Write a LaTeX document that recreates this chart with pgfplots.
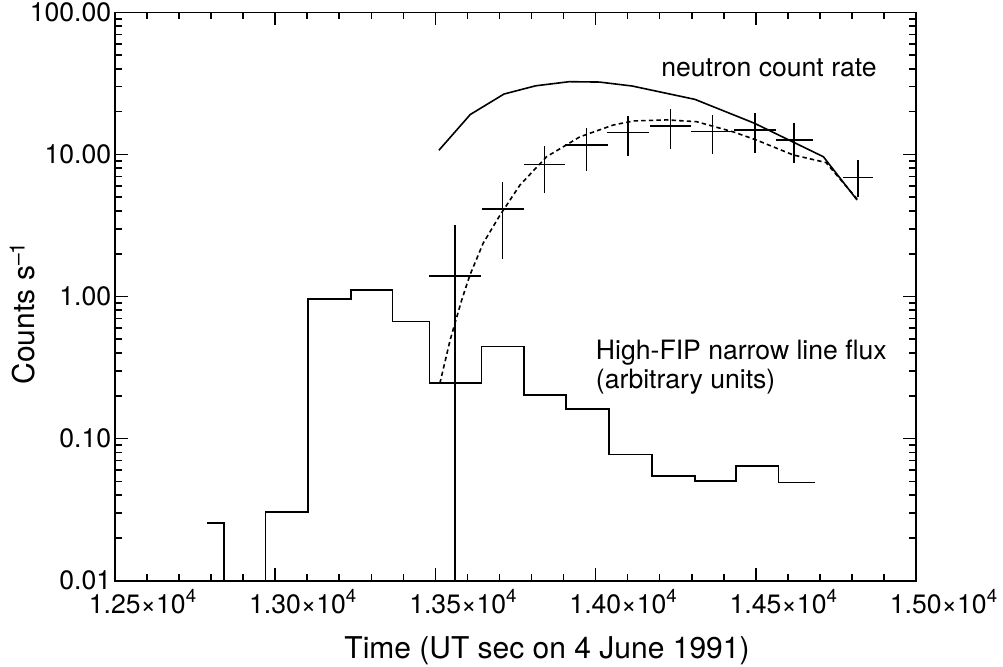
\documentclass[border=0pt]{standalone}
\usepackage{fontspec}
\setmainfont{TeX Gyre Heros}
\usepackage{pgfplots}
\usepackage{pgfplotstable}
\pgfplotsset{compat=1.18}

\pgfplotstableread{
x y ex eyp eym
13562 1.39 81.5 1.80 1.385
13710 4.11 66 2.26 2.27
13840 8.51 65 2.99 3.18
13972 11.6 66 3.7 3.92
14102 14.3 66 4.3 4.55
14234 15.9 65 4.9 5.0
14365 14.5 66 4.4 4.5
14497 14.8 65 4.7 4.6
14620 12.6 57 4.0 3.86
14819 6.87 48 2.26 1.83
}\neutrondata

\begin{document}
\begin{tikzpicture}
\useasboundingbox (-57.5pt,-42.65pt) rectangle (444pt,290.35pt);
\begin{axis}[
  at={(0,0)}, anchor=south west,
  scale only axis, width=400.5pt, height=284.2pt,
  ymode=log,
  xmin=12500, xmax=15000, ymin=0.01, ymax=100,
  xtick={12500,13000,13500,14000,14500,15000},
  xticklabels={1.25×10\textsuperscript{4},1.30×10\textsuperscript{4},1.35×10\textsuperscript{4},1.40×10\textsuperscript{4},1.45×10\textsuperscript{4},1.50×10\textsuperscript{4}},
  minor x tick num=4,
  scaled x ticks=false,
  ytick={0.01,0.1,1,10,100},
  yticklabels={0.01,0.10,1.00,10.00,100.00},
  minor ytick={0.02,0.03,0.04,0.05,0.06,0.07,0.08,0.09,0.2,0.3,0.4,0.5,0.6,0.7,0.8,0.9,2,3,4,5,6,7,8,9,20,30,40,50,60,70,80,90},
  major tick length=6.5pt, minor tick length=3.5pt,
  tick style={black, line width=0.8pt},
  axis line style={line width=0.8pt},
  xticklabel style={font=\fontsize{13.3}{16}\selectfont, anchor=base, yshift=-16.3pt, xshift=14pt},
  yticklabel style={font=\fontsize{13.3}{16}\selectfont, anchor=east, inner sep=0pt, xshift=-1.7pt},
  xlabel={Time (UT sec on 4 June 1991)},
  xlabel style={font=\fontsize{15}{18}\selectfont, at={(axis description cs:0.5,0)}, anchor=base, yshift=-38.8pt, xshift=15.75pt},
]
% High-FIP narrow line flux histogram
\addplot[black, line width=0.8pt, const plot] coordinates {
 (12787,0.0254) (12840,0.001) (12970,0.0303) (13103,0.96) (13236,1.11)
 (13366,0.668) (13481,0.247) (13644,0.444) (13776,0.202) (13908,0.162)
 (14042,0.0771) (14176,0.0546) (14310,0.0503) (14439,0.0641) (14571,0.049)
 (14686,0.049)
};
% neutron count rate (solid)
\addplot[black, line width=0.8pt] coordinates {
 (13511,10.7) (13609,19.1) (13714,26.6) (13813,30.4) (13918,32.5)
 (14012,32.3) (14114,30.3) (14310,24.4) (14495,16.6) (14711,9.63) (14816,4.78)
};
% model (dashed)
\addplot[black, line width=0.8pt, dash pattern=on 2.2pt off 1.6pt] coordinates {
 (13514,0.245) (13546,0.494) (13582,0.944) (13608,1.42) (13649,2.37)
 (13702,3.75) (13764,6.09) (13847,9.63) (13951,13.3) (14055,16.1)
 (14118,17.2) (14222,17.5) (14315,17.0) (14430,14.4) (14503,12.6)
 (14617,9.91) (14719,8.77) (14816,4.86)
};
% data with error bars
\addplot[draw=none, no markers,
  error bars/.cd, x dir=both, x explicit, y dir=both, y explicit,
  error mark=none, error bar style={draw=black, solid, line width=0.8pt}]
  table[x=x, y=y, x error=ex, y error plus=eyp, y error minus=eym] {\neutrondata};
\node[anchor=base west, font=\fontsize{13.3}{16}\selectfont, inner sep=0pt] at (axis cs:14204,35.2) {neutron count rate};
\node[anchor=base west, font=\fontsize{13.3}{16}\selectfont, inner sep=0pt] at (axis cs:14000,0.361) {High-FIP narrow line flux};
\node[anchor=base west, font=\fontsize{13.3}{16}\selectfont, inner sep=0pt] at (axis cs:14000,0.2235) {(arbitrary units)};
\end{axis}
\node[rotate=90, anchor=base, inner sep=0pt, font=\fontsize{15}{18}\selectfont] at (-40pt,133.85pt) {Counts s\textsuperscript{–1}};
\end{tikzpicture}
\end{document}
